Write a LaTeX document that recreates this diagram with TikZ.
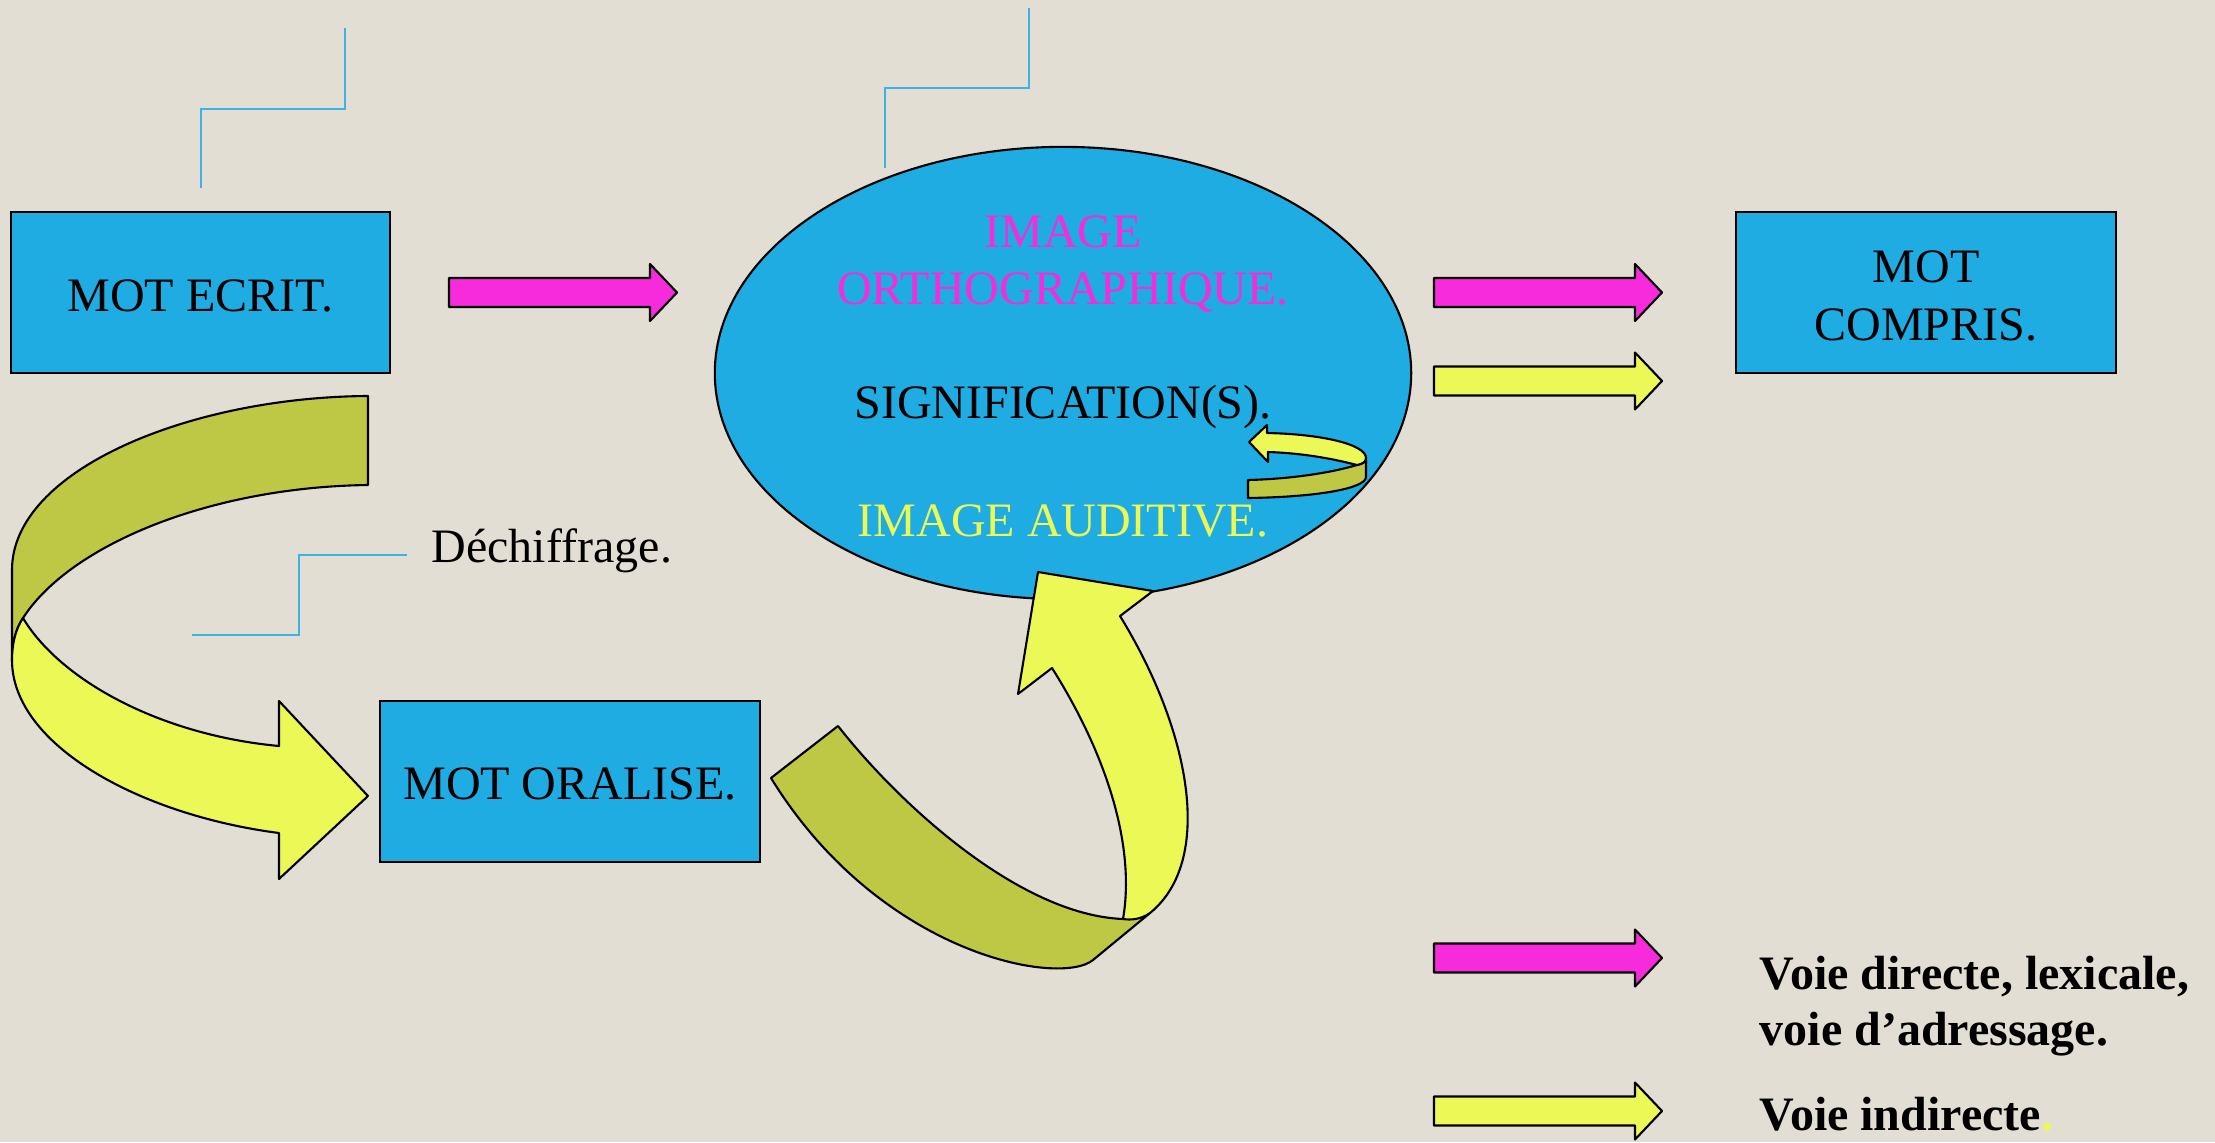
\documentclass[tikz,border=0pt]{standalone}
\usepackage{fontspec}
\setmainfont{Liberation Serif}
\usetikzlibrary{shapes.geometric}
\definecolor{fond}{RGB}{227,222,211}
\definecolor{bleu}{RGB}{30,172,226}
\definecolor{rose}{RGB}{247,42,220}
\definecolor{jaune}{RGB}{235,248,85}
\definecolor{kaki}{RGB}{191,200,69}
\definecolor{trait}{RGB}{62,178,228}

\begin{document}
\begin{tikzpicture}[x=0.01cm,y=-0.01cm,
  font=\fontsize{13.65}{16.3}\selectfont,
  boite/.style={draw,line width=0.6pt,fill=bleu,minimum width=3.79cm,minimum height=1.61cm,align=center},
  bande/.style={draw,line width=0.6pt,line join=round},
  repere/.style={trait,line width=0.45pt},
  legende/.style={anchor=base west,inner sep=0pt,font=\bfseries\fontsize{13.65}{16.3}\selectfont},
  fleche/.pic={\path[pic actions] (0,-14.5) -- (201,-14.5) -- (201,-28.5) -- (228,0) -- (201,28.5) -- (201,14.5) -- (0,14.5) -- cycle;}]
\useasboundingbox (0,0) rectangle (2215,1142);
\fill[fond] (0,0) rectangle (2215,1142);

% lignes des bulles vides
\draw[repere] (201,188) -- (201,109) -- (345,109) -- (345,28);
\draw[repere] (885,168) -- (885,88) -- (1029,88) -- (1029,8);
\draw[repere] (192,635) -- (299,635) -- (299,555) -- (407,555);

\node[boite] (ecrit) at (200.5,292.5) {};
\node (ecrit_t) at (200.5,296) {MOT ECRIT.};
\node[boite] (oral) at (570,781.5) {};
\node (oral_t) at (570,784) {MOT ORALISE.};
\node[boite] (compris) at (1926,292.5) {};
\node[align=center] (compris_t) at (1926,296) {MOT\\COMPRIS.};
\node[ellipse,draw,line width=0.6pt,fill=bleu,minimum width=6.96cm,minimum height=4.52cm,inner sep=0pt] (image) at (1063,373) {};
\node[rose,align=center] (ortho) at (1063,264) {IMAGE\\ORTHOGRAPHIQUE.};
\node (sens) at (1063,407) {SIGNIFICATION(S).};
\node[jaune] (audit) at (1063,521) {IMAGE AUDITIVE.};
\node[anchor=west,inner sep=0pt] (dechif) at (431,551) {Déchiffrage.};

% fleches droites
\foreach \x/\y/\c in {449/292.5/rose, 1434/292.5/rose, 1434/381/jaune, 1434/958/rose, 1434/1111/jaune} {
  \pic[bande,fill=\c] at (\x,\y) {fleche};
}

% fleche courbe de gauche
\draw[bande,fill=kaki] (368,396) .. controls (190,397) and (12,470) .. (12,570) -- (12,660)
  .. controls (12,645) and (15,630) .. (23,618) .. controls (70,545) and (210,487) .. (368,485) -- cycle;
\draw[bande,fill=jaune] (23,618) .. controls (60,680) and (160,735) .. (279,746) -- (279,701) -- (368,796)
  -- (279,879) -- (279,833) .. controls (140,815) and (12,745) .. (12,660)
  .. controls (12,645) and (15,630) .. (23,618) -- cycle;

% fleche courbe du bas
\draw[bande,fill=kaki] (771,778) -- (838,726) .. controls (900,805) and (1020,915) .. (1123,919)
  -- (1150,913) -- (1093,960) .. controls (1060,987) and (880,955) .. (771,778) -- cycle;
\draw[bande,fill=jaune] (1123,919) .. controls (1135,850) and (1110,760) .. (1052,668) -- (1018,694)
  -- (1038,572) -- (1153,591) -- (1120,616) .. controls (1190,730) and (1215,860) .. (1150,913)
  .. controls (1140,920) and (1130,920) .. (1123,919) -- cycle;

% petite boucle
\draw[bande,fill=kaki] (1248,480) -- (1248,498) .. controls (1320,497) and (1366,488) .. (1366,477)
  -- (1366,458) .. controls (1366,462) and (1362,464) .. (1357,465) .. controls (1330,473) and (1290,479) .. (1248,480) -- cycle;
\draw[bande,fill=jaune] (1249,442) -- (1267,425) -- (1267,433) .. controls (1320,434) and (1366,444) .. (1366,458)
  .. controls (1366,462) and (1362,464) .. (1357,465) .. controls (1330,458) and (1300,453) .. (1268,452)
  -- (1268,462) -- cycle;

% legende
\node[legende] (voie1) at (1759,989) {Voie directe, lexicale,};
\node[legende] (voie2) at (1759,1045) {voie d’adressage.};
\node[legende] (voie3) at (1759,1130) {Voie indirecte\textcolor{jaune}{.}};
\end{tikzpicture}
\end{document}
